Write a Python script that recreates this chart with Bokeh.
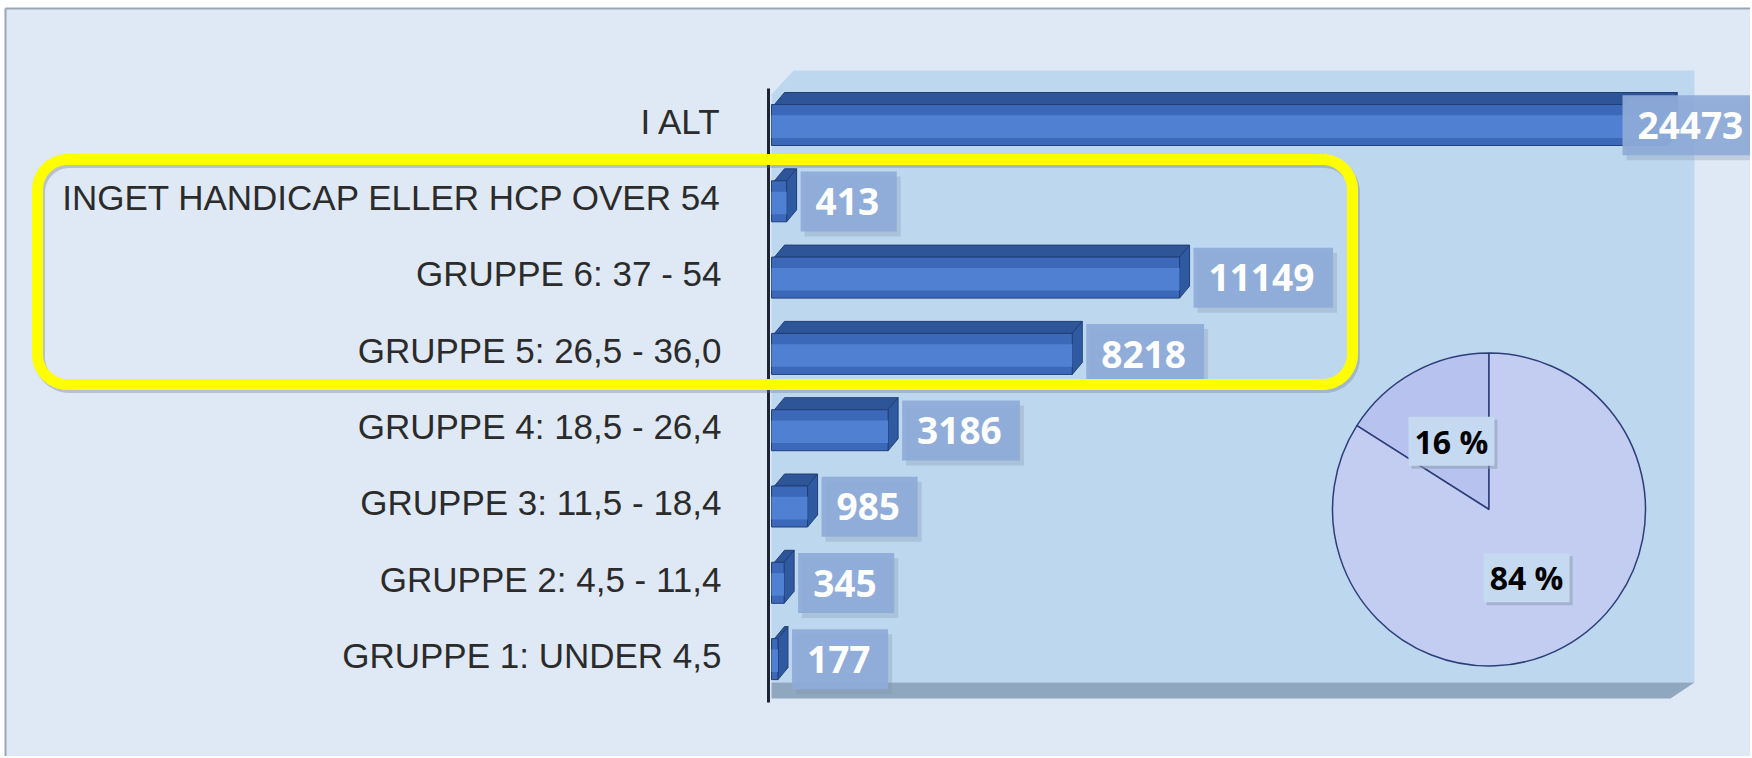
import numpy as np
from bokeh.plotting import figure
from bokeh.models import Range1d
from bokeh.core.properties import value
from bokeh.embed import file_html
from bokeh.resources import INLINE

# ---------------- data ----------------
categories = [
    "I ALT",
    "INGET HANDICAP ELLER HCP OVER 54",
    "GRUPPE 6: 37 - 54",
    "GRUPPE 5: 26,5 - 36,0",
    "GRUPPE 4: 18,5 - 26,4",
    "GRUPPE 3: 11,5 - 18,4",
    "GRUPPE 2: 4,5 - 11,4",
    "GRUPPE 1: UNDER 4,5",
]
counts = [24473, 413, 11149, 8218, 3186, 985, 345, 177]
pie_labels = ["16 %", "84 %"]
pie_shares = [16, 84]

# ---------------- layout constants (pixels) ----------------
W, H = 1750, 756
ZERO_PX = 771.0       # pixel where value 0 sits
S = 0.0366            # pixels per unit
ROW_PX = 76.3
TOP_ROW_PX = 120.7
BG = "#dfe9f5"

n = len(categories)
vals = np.array(counts, dtype=float)
ypos = np.arange(n)[::-1].astype(float)   # first category on top

x_range = Range1d(-ZERO_PX / S, (W - ZERO_PX) / S)
y_top = (n - 1) + TOP_ROW_PX / ROW_PX
y_bot = (n - 1) - (H - TOP_ROW_PX) / ROW_PX
y_range = Range1d(y_bot, y_top)

p = figure(width=W, height=H, x_range=x_range, y_range=y_range,
           x_axis_location=None, y_axis_location=None,
           toolbar_location=None, output_backend="svg",
           min_border=0, background_fill_color="white", border_fill_color="white",
           outline_line_color=None)
p.grid.grid_line_color = None
p.extra_x_ranges = {"px": Range1d(0, W)}
p.extra_y_ranges = {"px": Range1d(H, 0)}
PX = dict(x_range_name="px", y_range_name="px")

# slide background with frame border (top / left)
p.quad(left=[5], right=[W], top=[8], bottom=[H], fill_color=BG, line_color=None, **PX)
p.segment(x0=[5, 5], y0=[8, 8], x1=[W, 5], y1=[8, H], line_color="#9aa7b3", line_width=2, **PX)

# chart panel (back wall + floor)
p.patch(x=[771, 793, 1694, 1694, 771], y=[94, 70, 70, 682, 682],
        fill_color="#bdd7ee", line_color=None, **PX)
p.patch(x=[771, 1694, 1670, 771], y=[682, 682, 698, 698],
        fill_color="#90a8bf", line_color=None, **PX)

# axis line
p.segment(x0=[768], y0=[88], x1=[768], y1=[702], line_color="#1c2333", line_width=3, **PX)

# ---------------- 3D bars ----------------
front_h = 41.0 / ROW_PX
off = 3.8 / ROW_PX
dy = 12.0 / ROW_PX
dx = 10.0 / S
yc = ypos - off
yt = yc + front_h / 2
yb = yc - front_h / 2

top_xs = [[0 + dx * 0.3, v, v + dx, dx * 1.3] for v in vals]
top_ys = [[t, t, t + dy, t + dy] for t in yt]
p.patches(xs=top_xs, ys=top_ys, fill_color="#2e5597", line_color="#203f78", line_width=1)

cap_xs = [[v, v + dx, v + dx, v] for v in vals]
cap_ys = [[b, b + dy, t + dy, t] for b, t in zip(yb, yt)]
p.patches(xs=cap_xs, ys=cap_ys, fill_color="#2f5aa2", line_color="#203f78", line_width=1)

p.hbar(y=yc, left=0, right=vals, height=front_h, fill_color="#3b68b8",
       line_color="#203f78", line_width=1)
p.hbar(y=yc - 0.04 * front_h, left=0, right=vals, height=front_h * 0.55,
       fill_color="#4f80d2", line_color=None)

# ---------------- value labels ----------------
digits = np.array([len(str(c)) for c in counts])
text_w_px = digits * 21.7
box_w_px = text_w_px + 31
GAP = 14.0
MAX_LEFT_PX = W - 128.0
box_left_px = np.minimum(ZERO_PX + vals * S + GAP, MAX_LEFT_PX)
box_left = (box_left_px - ZERO_PX) / S
box_cx = box_left + box_w_px / 2 / S
box_cy = ypos - 4.0 / ROW_PX
box_h = 60.0 / ROW_PX

p.rect(x=box_cx + 4 / S, y=box_cy - 5 / ROW_PX, width=box_w_px / S, height=box_h,
       fill_color="#7d92ad", fill_alpha=0.30, line_color=None)
p.rect(x=box_cx, y=box_cy, width=box_w_px / S, height=box_h,
       fill_color="#8eabd8", fill_alpha=0.93, line_color=None)
p.text(x=box_left, y=box_cy, text=[str(c) for c in counts], x_offset=15,
       text_align="left", text_baseline="middle", text_color="white",
       text_font=value("Open Sans"), text_font_style="bold", text_font_size="37px")

# ---------------- category labels ----------------
p.text(x=[721.0] * n, y=ypos, text=categories, x_range_name="px",
       text_align="right", text_baseline="middle", text_color="#2b2b2b",
       text_font=value("Liberation Sans"), text_font_size="35px")

# ---------------- pie ----------------
cx, cy, R = 1488.5, 509.0, 156.5
shares = np.array(pie_shares, dtype=float)
fr = shares / shares.sum()
cum = np.concatenate([[0], np.cumsum(fr)])
starts = np.deg2rad(90 + cum[:-1] * 360)
ends = np.deg2rad(90 + cum[1:] * 360)
p.wedge(x=[cx] * 2, y=[cy] * 2, radius=R, radius_units="screen",
        start_angle=starts, end_angle=ends, direction="anticlock",
        fill_color=["#b7c2ee", "#c3ccf1"], line_color="#2c3e78", line_width=1.5, **PX)

mid = (starts + ends) / 2
lr = 78.0
lx = cx + lr * np.cos(mid)
ly = cy - lr * np.sin(mid)
p.rect(x=lx + 3, y=ly + 3, width=86, height=49, width_units="screen", height_units="screen",
       fill_color="#8b9cb3", fill_alpha=0.55, line_color=None, **PX)
p.rect(x=lx, y=ly, width=86, height=49, width_units="screen", height_units="screen",
       fill_color="#c5daf0", line_color=None, **PX)
p.text(x=lx, y=ly, text=pie_labels, text_align="center", text_baseline="middle",
       text_color="black", text_font=value("Open Sans"), text_font_style="bold",
       text_font_size="32px", **PX)

# ---------------- yellow highlight frame ----------------
L, Rt, T, B, rad = 37.0, 1352.0, 159.0, 384.0, 30.0
def arc(cxa, cya, a0, a1, m=12):
    a = np.deg2rad(np.linspace(a0, a1, m))
    return cxa + rad * np.cos(a), cya - rad * np.sin(a)
parts = [arc(Rt - rad, T + rad, 90, 0), arc(Rt - rad, B - rad, 0, -90),
         arc(L + rad, B - rad, -90, -180), arc(L + rad, T + rad, -180, -270)]
fx = np.concatenate([q[0] for q in parts] + [[Rt - rad]])
fy = np.concatenate([q[1] for q in parts] + [[T]])
p.line(x=fx + 2, y=fy + 3, line_color="#6f7b88", line_alpha=0.35, line_width=11,
       line_join="round", **PX)
p.line(x=fx, y=fy, line_color="#ffff00", line_width=11, line_join="round", **PX)

open("out.html", "w").write(file_html(p, INLINE))
